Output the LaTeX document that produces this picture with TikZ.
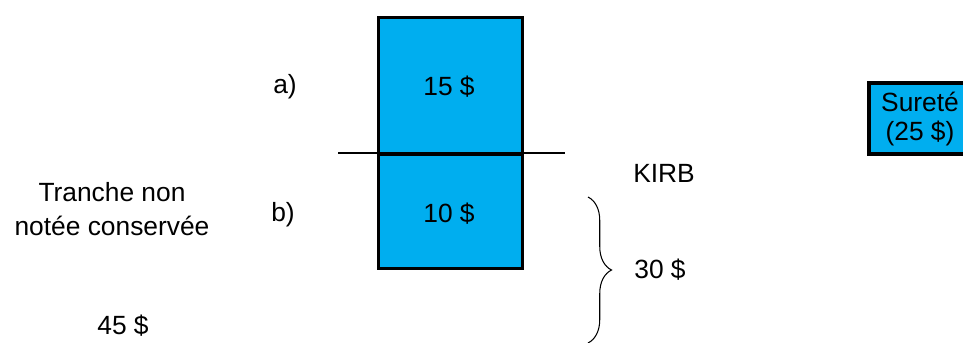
\documentclass[tikz,border=0pt]{standalone}
\usepackage{fontspec}
\setmainfont{Liberation Sans}
\usepackage{xcolor}
\usetikzlibrary{positioning,decorations.pathreplacing}
\definecolor{trancheblue}{HTML}{00AEEF}

\begin{document}
\begin{tikzpicture}[x=0.02cm, y=-0.02cm, font=\fontsize{15}{17.5}\selectfont,
    tranche/.style={rectangle, draw, line width=1.6pt, fill=trancheblue, inner sep=0pt}]
    \useasboundingbox (0,0) rectangle (963,342);
    % tranches a) et b)
    \node (upper) [tranche, minimum width=2.88cm, minimum height=2.74cm, anchor=north west] at (377,16) {};
    \node (lower) [tranche, minimum width=2.88cm, minimum height=2.28cm, anchor=north west] at (377,153) {};
    \node (v15) at (449,87) {15 \$};
    \node (v10) at (449,214) {10 \$};
    \node (a) at (285,87) {a)};
    \node (b) at (283,215) {b)};
    \coordinate (cutL) at (338,153);
    \coordinate (cutR) at (565,153);
    \draw [line width=1.2pt] (cutL) -- (cutR);
    % surete
    \node (surete) [tranche, line width=2pt, anchor=north west, minimum width=2.8cm, minimum height=1.42cm] at (867,81) {};
    \node (sureteText) [align=center, inner sep=0pt, font=\fontsize{15}{16}\selectfont] at (920,119) {Sureté\\(25 \$)};
    % KIRB
    \node (kirb) at (664,173) {KIRB};
    \coordinate (braceTop) at (588,197);
    \coordinate (braceBot) at (588,343);
    \draw [decorate, decoration={brace, amplitude=0.47cm}, line width=0.6pt] (braceTop) -- (braceBot);
    \node (v30) at (660,270) {30 \$};
    % tranche non notee
    \node (nonnotee) [align=center, font=\fontsize{15}{19}\selectfont] at (112,209) {Tranche non\\notée conservée};
    \node (v45) at (123,326) {45 \$};
\end{tikzpicture}
\end{document}
